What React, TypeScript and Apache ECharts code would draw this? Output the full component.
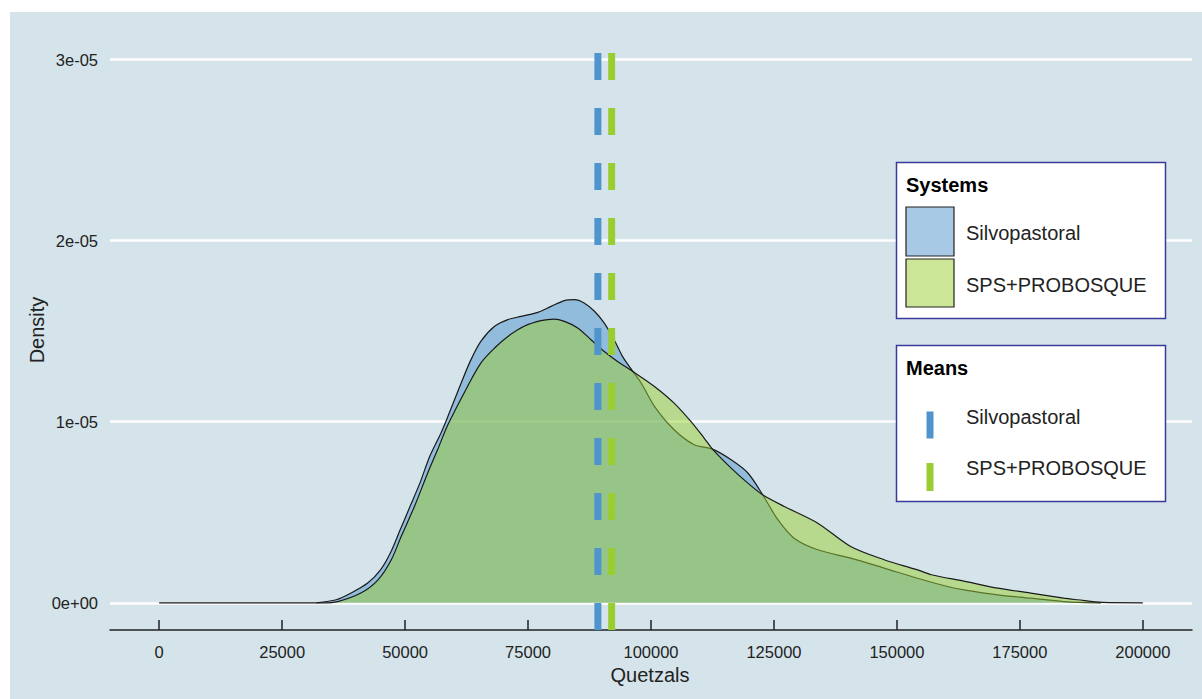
import React, { useEffect, useRef } from "react";
import * as echarts from "echarts";

// ---- data ----
const DENSITY_UNIT = 1e-6;

const silvoX = [32000, 36000, 39000, 42400, 45000, 47000, 49000, 51000, 53000, 55000, 57300, 58700, 61400, 63400, 65400, 68200, 70900, 73600, 77000, 79700, 82400, 84400, 86400, 88500, 90500, 92500, 94200, 96300, 98000, 100700, 104700, 108800, 112500, 116300, 119700, 122700, 125800, 129100, 133900, 140600, 147400, 154200, 160300, 163600, 170500, 177200, 183900, 187000, 191500];
const silvoY = [0, 0.17, 0.54, 1.09, 1.82, 2.75, 4.03, 5.32, 6.61, 8.08, 9.38, 10.29, 12.14, 13.43, 14.44, 15.27, 15.64, 15.82, 16.04, 16.37, 16.69, 16.74, 16.56, 16.1, 15.45, 14.53, 13.61, 12.78, 12.14, 10.85, 9.56, 8.73, 8.49, 7.9, 7.17, 5.97, 4.59, 3.57, 2.93, 2.47, 1.92, 1.36, 0.9, 0.72, 0.44, 0.26, 0.07, 0.02, 0];

const probX = [0, 30000, 33500, 36300, 41000, 44500, 47200, 49200, 51900, 54600, 56600, 58700, 62700, 65400, 68200, 70900, 74200, 77600, 80300, 82400, 85100, 87800, 90500, 93200, 96300, 100700, 104700, 108100, 110800, 112500, 116300, 119700, 122700, 127100, 133900, 140600, 147400, 154200, 157000, 163600, 170500, 177200, 183900, 186700, 191800, 200000];
const probY = [0, 0, 0, 0.07, 0.54, 1.27, 2.38, 3.66, 5.32, 7.17, 8.45, 9.83, 11.95, 13.24, 14.07, 14.71, 15.27, 15.58, 15.67, 15.54, 15.18, 14.53, 13.88, 13.33, 12.78, 11.95, 11.03, 10.02, 9.1, 8.49, 7.44, 6.61, 5.97, 5.32, 4.4, 3.11, 2.38, 1.82, 1.55, 1.2, 0.81, 0.54, 0.26, 0.17, 0.02, 0];

const systemNames = ["Silvopastoral", "SPS+PROBOSQUE"];
const meanValues = [89200, 92000];

const xTicks = [0, 25000, 50000, 75000, 100000, 125000, 150000, 175000, 200000];
const yTicks = [0, 1e-5, 2e-5, 3e-5];
const yTickLabels = ["0e+00", "1e-05", "2e-05", "3e-05"];

// ---- layout / style ----
const X_MIN = -10000;
const X_MAX = 210000;
const Y_MIN = -1.5e-6;
const Y_MAX = 3.13e-5;
const OX = 10;
const OY = 12;
const FONT = "'Liberation Sans', Arial, sans-serif";
const FILL_COLORS = ["rgba(79,148,205,0.5)", "rgba(154,205,50,0.5)"];
const MEAN_COLORS = ["#4F94CD", "#9ACD32"];
const BOX_STROKE = "#3a3a9c";

export default function App() {
  const ref = useRef<HTMLDivElement>(null);

  useEffect(() => {
    if (!ref.current) return;
    const chart = echarts.init(ref.current, null, { renderer: "svg" });

    const densSeries = [
      { xs: silvoX, ys: silvoY },
      { xs: probX, ys: probY },
    ].map((s, i) => ({
      type: "line",
      name: systemNames[i],
      data: s.xs.map((x, j) => [x, s.ys[j] * DENSITY_UNIT]),
      smooth: 0.3,
      symbol: "none",
      lineStyle: { color: "#1a1a1a", width: 1.2 },
      areaStyle: { color: FILL_COLORS[i], origin: 0, opacity: 1 },
      z: 2 + i,
      silent: true,
    }));

    const meanSeries = meanValues.map((m, i) => ({
      type: "line",
      name: "mean-" + systemNames[i],
      data: [
        [m, Y_MIN],
        [m, Y_MAX],
      ],
      symbol: "none",
      lineStyle: { color: MEAN_COLORS[i], width: 7, type: [27, 28], cap: "butt" },
      z: 5,
      silent: true,
    }));

    const txt = (text: string, x: number, y: number, opts: any = {}) => ({
      type: "text",
      x: x - OX,
      y: y - OY,
      z: 100,
      rotation: opts.rotation || 0,
      style: {
        text,
        font: `${opts.bold ? "bold " : ""}${opts.size || 20}px ${FONT}`,
        fill: opts.color || "#222",
        textAlign: opts.align || "left",
        textVerticalAlign: "middle",
        align: opts.align || "left",
        verticalAlign: "middle",
      },
    });

    const rect = (x: number, y: number, w: number, h: number, style: any) => ({
      type: "rect",
      shape: { x: x - OX, y: y - OY, width: w, height: h },
      style,
      z: 99,
    });

    const boxStyle = { fill: "#ffffff", stroke: BOX_STROKE, lineWidth: 1.5 };

    const graphic = [
      txt("Quetzals", 650, 675, { align: "center", size: 20 }),
      txt("Density", 37, 330, { align: "center", size: 20, rotation: Math.PI / 2 }),
      // Systems legend
      rect(896.5, 162.5, 269, 156, boxStyle),
      txt("Systems", 906, 185, { bold: true, size: 20, color: "#000" }),
      rect(906, 207, 48, 49, { fill: FILL_COLORS[0], stroke: "#222", lineWidth: 1.2 }),
      rect(906, 259, 48, 48, { fill: FILL_COLORS[1], stroke: "#222", lineWidth: 1.2 }),
      txt(systemNames[0], 966, 233, { size: 20 }),
      txt(systemNames[1], 966, 285, { size: 20 }),
      // Means legend
      rect(896.5, 345.5, 269, 156, boxStyle),
      txt("Means", 906, 368, { bold: true, size: 20, color: "#000" }),
      rect(926.5, 411.5, 7, 27, { fill: MEAN_COLORS[0] }),
      rect(926.5, 463, 7, 28, { fill: MEAN_COLORS[1] }),
      txt(systemNames[0], 966, 417, { size: 20 }),
      txt(systemNames[1], 966, 468, { size: 20 }),
    ];

    chart.setOption({
      animation: false,
      backgroundColor: "#d5e4eb",
      grid: { left: 100, right: 10, top: 24, bottom: 69 },
      xAxis: {
        type: "value",
        min: X_MIN,
        max: X_MAX,
        axisLine: { show: true, onZero: false, lineStyle: { color: "#222", width: 1.5 } },
        axisTick: { show: true, inside: true, length: 10, customValues: xTicks, lineStyle: { color: "#222", width: 1.5 } },
        axisLabel: {
          customValues: xTicks,
          formatter: (v: number) => String(v),
          color: "#222",
          fontSize: 16.5,
          fontFamily: FONT,
          margin: 13,
        },
        splitLine: { show: false },
      },
      yAxis: {
        type: "value",
        min: Y_MIN,
        max: Y_MAX,
        axisLine: { show: false },
        axisTick: { show: false, customValues: yTicks },
        axisLabel: {
          customValues: yTicks,
          formatter: (v: number) => {
            const i = yTicks.findIndex((t) => Math.abs(t - v) < 1e-9);
            return i >= 0 ? yTickLabels[i] : "";
          },
          color: "#222",
          fontSize: 16.5,
          fontFamily: FONT,
          margin: 12,
        },
        splitLine: { show: true, lineStyle: { color: "#ffffff", width: 2.5 } },
      },
      series: [...densSeries, ...meanSeries],
      graphic,
    });

    return () => chart.dispose();
  }, []);

  return (
    <div style={{ position: "fixed", left: 0, top: 0, width: 1202, height: 699, background: "#ffffff" }}>
      <div
        ref={ref}
        style={{ position: "absolute", left: OX, top: OY, width: 1202 - OX, height: 699 - OY }}
      />
    </div>
  );
}
